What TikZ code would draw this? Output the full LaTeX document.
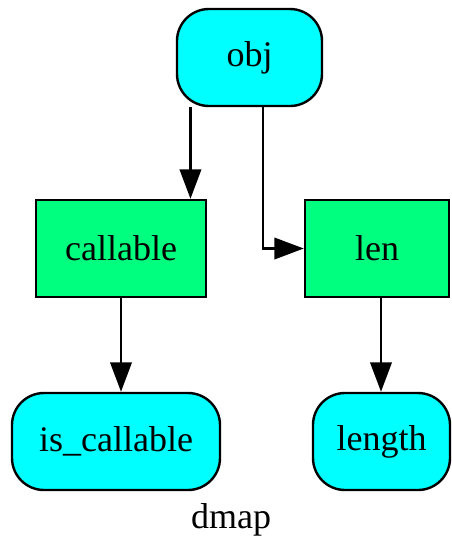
\documentclass[tikz,border=0pt]{standalone}
\usepackage{fontspec}
\setmainfont{Liberation Serif}
\usetikzlibrary{arrows.meta,positioning,calc}
\definecolor{datacolor}{RGB}{0,255,255}
\definecolor{funccolor}{RGB}{0,255,127}

\tikzset{
  datanode/.style={draw=black, line width=1.8pt, fill=datacolor, rounded corners=24pt,
    minimum height=72.75pt, inner sep=0pt, font=\fontsize{27}{32}\selectfont},
  funcnode/.style={draw=black, line width=1.8pt, fill=funccolor,
    minimum height=72.75pt, inner sep=0pt, font=\fontsize{27}{32}\selectfont},
  edge/.style={draw=black, line width=1.8pt, -{Triangle[length=22pt,width=16pt]}}
}

\begin{document}
\begin{tikzpicture}[x=0.75pt, y=-0.75pt]

\useasboundingbox (0,0) rectangle (451,540);

% ================= NODES =================
\node[datanode, minimum width=108.75pt] (obj) at (249.5,57.5) {obj};
\node[funcnode, minimum width=127.5pt] (callable) at (121,248.5) {callable};
\node[funcnode, minimum width=108pt] (len) at (377,248.5) {len};
\node[datanode, minimum width=156pt] (iscallable) at (116,441.5) {is\_callable};
\node[datanode, minimum width=102.75pt] (length) at (381.5,441.5) {length};

% Graph label
\node[font=\fontsize{27}{32}\selectfont] (dmap) at (231,520) {dmap};

% ================= EDGES =================
\draw[edge] ([xshift=11pt]obj.south west) -- ([xshift=11pt]obj.south west |- callable.north);
\draw[edge] ([xshift=10pt]obj.south) |- (len.west);
\draw[edge] (callable.south) -- (callable.south |- iscallable.north);
\draw[edge] ([xshift=3pt]len.south) -- ([xshift=3pt]len.south |- length.north);

\end{tikzpicture}
\end{document}
